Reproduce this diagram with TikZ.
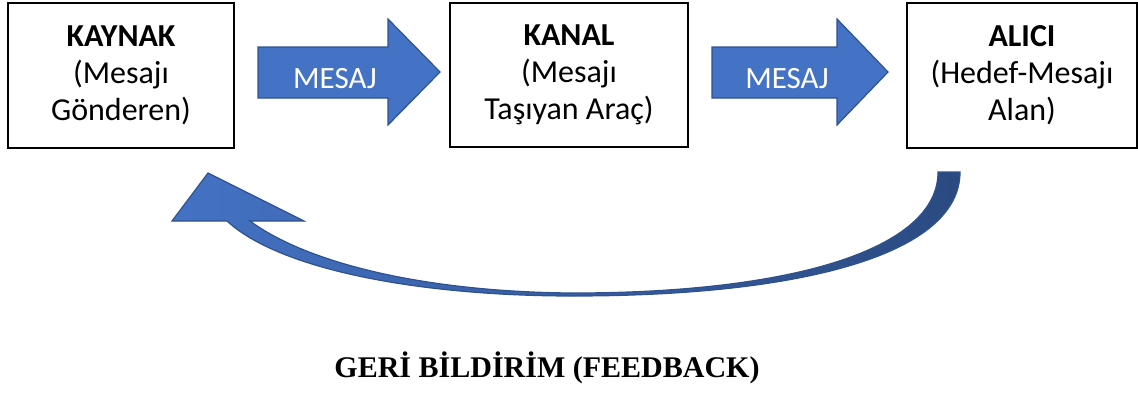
\documentclass[tikz,border=0pt]{standalone}
\usepackage{fontspec}
\setmainfont{Carlito}
\newfontfamily\serifbf{Liberation Serif}
\usepackage{tikz}
\definecolor{msgblue}{HTML}{4472C4}
\definecolor{msgdark}{HTML}{2F528F}

\begin{document}
\begin{tikzpicture}[x=0.5pt, y=-0.5pt, line join=miter,
		box/.style={draw, line width=0.6pt, align=center, inner sep=0pt,
			font=\fontsize{16}{18.5}\selectfont},
		blockarrow/.style={fill=msgblue, draw=msgdark, line width=0.6pt},
		msg/.style={text=white, font=\fontsize{15.5}{18}\selectfont}]
		\useasboundingbox (0,0) rectangle (1138,396);
		% boxes
		\node[box, minimum width=113pt, minimum height=72.5pt] (kaynak) at (121,75.5)
			{\textbf{KAYNAK}\\(Mesajı\\Gönderen)};
		\node[box, minimum width=119pt, minimum height=72pt] (kanal) at (569,75)
			{\textbf{KANAL}\\(Mesajı\\Taşıyan Araç)};
		\node[box, minimum width=115pt, minimum height=72.5pt] (alici) at (1022,75.5)
			{\textbf{ALICI}\\(Hedef-Mesajı\\Alan)};
		% message arrows
		\draw[blockarrow] (258,47) -- (388,47) -- (388,19) -- (440,72)
			-- (388,125) -- (388,98) -- (258,98) -- cycle;
		\node[msg] (msg1) at (335,79) {MESAJ};
		\draw[blockarrow] (712,47) -- (837,47) -- (837,19) -- (888,72)
			-- (837,125) -- (837,98) -- (712,98) -- cycle;
		\node[msg] (msg2) at (787,79) {MESAJ};
		% feedback arrow
		\draw[left color=msgblue, right color=msgdark!90!black, draw=msgdark, line width=0.6pt]
			(960,172) .. controls (960,255) and (800,296) .. (573,296)
			.. controls (420,296) and (280,270) .. (227,221)
			-- (172,221) -- (208,173) -- (304,221) -- (250,221)
			.. controls (310,265) and (430,292) .. (573,293)
			.. controls (790,293) and (938,250) .. (938,172) -- cycle;
		\node[anchor=base, font=\serifbf\bfseries\fontsize{15}{18}\selectfont] (feedback) at (547,377)
			{GERİ BİLDİRİM (FEEDBACK)};
	\end{tikzpicture}
\end{document}
